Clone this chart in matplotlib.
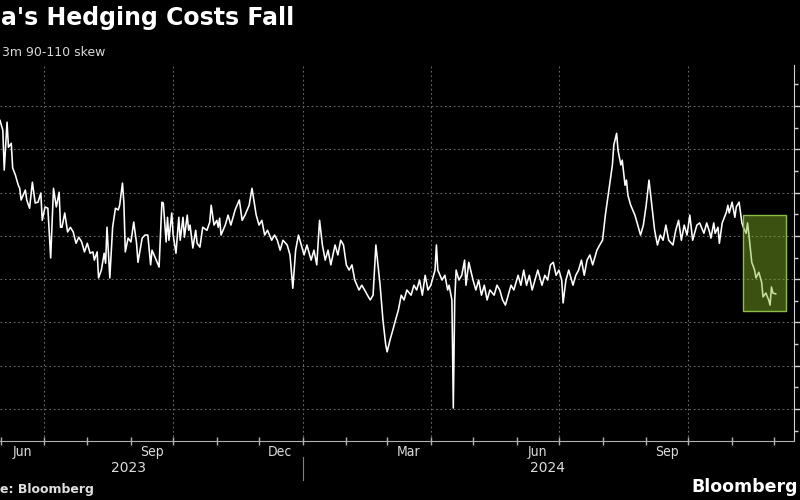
import matplotlib
matplotlib.use("Agg")
import matplotlib.pyplot as plt
import matplotlib.dates as mdates
import matplotlib.transforms as mtransforms
import matplotlib.patches as mpatches
import pandas as pd

# ---------------- data ----------------
base_date = pd.Timestamp("2023-07-01")

day_offsets = [
    -31, -29, -28, -26, -25, -23, -22, -20, -18, -17, -16, -13, -12, -10, -8, -6, -4, -2, -1, 1,
    3, 5, 7, 9, 11, 12, 13, 15, 17, 19, 21, 23, 25, 27, 29, 31, 33, 35, 36, 38,
    39, 41, 43, 44, 45, 47,
    49, 51, 53, 54, 56, 57, 58, 60, 62, 64, 66, 67, 70, 72, 74, 76, 77, 80, 82, 84,
    85, 87, 88, 89, 91, 92, 94, 96, 97, 99, 100, 102, 103, 104, 106, 108, 109, 111, 113, 116,
    118, 119, 121, 123, 124, 125, 126, 129,
    131, 133, 136, 139, 141, 143, 146, 148, 151, 153, 155, 157, 159, 162, 164, 166, 168, 170, 173, 175,
    177, 179, 181,
    183, 185, 187, 190, 192, 194, 196, 198, 200, 202, 204, 207, 209, 211, 213, 215, 217, 219, 221, 224,
    226, 228, 230, 232, 234, 236, 239, 241, 243, 244, 246, 248, 250, 252, 254, 256, 258, 261, 263, 265,
    267, 269, 271, 273, 275, 278, 279, 280, 283, 285, 287, 288, 290, 291, 292, 293,
    295, 297, 299, 300, 302, 305, 307, 309, 311, 313, 315, 317, 320, 322, 324, 326, 328, 330, 332, 334,
    337, 339, 341, 343, 345, 347, 349, 351, 354, 356, 358, 360, 362, 364, 366, 368, 369, 371, 373, 376,
    378, 380, 382, 384, 386, 388, 390, 393, 395, 397,
    399, 401, 403, 404, 405, 407, 408, 410, 411, 413, 414, 415, 417, 420, 422, 424, 426, 428, 430, 432,
    434, 436, 438, 440, 442, 444, 447, 449, 451, 453, 455, 457, 459, 461, 464, 466,
    469, 471, 473, 474, 476, 477, 479, 480, 482, 485, 486, 487, 489, 490, 491, 492, 494, 496, 497, 499,
    500, 501, 503, 505, 506, 508, 510, 511, 513, 515, 516, 517, 518, 520,
]

skew = [
    8.67, 8.44, 7.52, 8.63, 8.05, 8.14, 7.57, 7.40, 7.17, 7.10, 6.83, 7.06, 6.83, 6.64, 7.24, 6.76, 6.78, 6.99, 6.36, 6.67,
    6.64, 5.49, 7.10, 6.67, 7.01, 6.20, 6.20, 6.53, 6.09, 6.20, 6.09, 5.83, 5.97, 5.86, 5.63, 5.83, 5.60, 5.63, 5.44, 5.63,
    5.03, 5.21, 5.60, 5.37, 6.20, 5.03,
    6.20, 6.64, 6.60, 6.71, 7.22, 6.76, 5.63, 5.95, 5.86, 6.32, 5.83, 5.39, 5.95, 6.02, 6.02, 5.33, 5.67, 5.44, 5.28, 6.78,
    6.76, 5.86, 6.43, 5.90, 6.53, 6.02, 5.60, 6.43, 5.90, 6.43, 5.97, 6.48, 6.13, 6.25, 5.72, 6.13, 5.83, 5.74, 6.20, 6.13,
    6.32, 6.71, 6.25, 6.36, 6.20, 6.41, 6.02, 6.25,
    6.48, 6.25, 6.60, 6.83, 6.36, 6.48, 6.71, 7.10, 6.48, 6.25, 6.36, 6.02, 6.13, 5.90, 6.02, 5.90, 5.67, 5.90, 5.79, 5.56,
    4.79, 5.67, 6.02,
    5.79, 5.56, 5.79, 5.44, 5.67, 5.33, 6.36, 5.79, 5.44, 5.67, 5.33, 5.79, 5.56, 5.90, 5.79, 5.33, 5.21, 5.33, 4.98, 4.75,
    4.86, 4.75, 4.63, 4.52, 4.63, 5.79, 4.86, 4.06, 3.48, 3.32, 3.59, 3.82, 4.06, 4.29, 4.63, 4.52, 4.75, 4.63, 4.86, 4.75,
    4.98, 4.63, 5.09, 4.75, 4.86, 5.21, 5.79, 5.21, 4.98, 5.09, 4.75, 4.86, 4.52, 2.02, 4.52, 5.21,
    4.98, 5.09, 5.44, 4.86, 5.39, 4.98, 4.75, 4.98, 4.63, 4.86, 4.52, 4.75, 4.63, 4.86, 4.75, 4.52, 4.40, 4.63, 4.86, 4.75,
    5.09, 4.86, 5.21, 4.86, 5.09, 4.75, 4.98, 5.21, 4.86, 5.09, 4.98, 5.33, 5.39, 5.09, 5.21, 4.98, 4.45, 4.98, 5.21, 4.86,
    5.09, 5.21, 5.44, 5.09, 5.44, 5.56, 5.33, 5.67, 5.79, 5.90,
    6.48, 6.94, 7.40, 7.64, 8.10, 8.37, 7.98, 7.64, 7.75, 7.17, 7.29, 6.94, 6.71, 6.48, 6.25, 6.02, 6.25, 6.71, 7.29, 6.71,
    6.13, 5.79, 6.02, 5.90, 6.25, 5.90, 5.79, 6.13, 6.36, 5.90, 6.25, 6.02, 6.48, 5.90, 6.25, 6.30,
    6.06, 6.30, 6.09, 5.95, 6.30, 6.06, 6.20, 5.83, 6.30, 6.55, 6.71, 6.53, 6.78, 6.60, 6.43, 6.67, 6.78, 6.30, 6.20, 6.06,
    6.30, 6.02, 5.39, 5.21, 5.03, 5.16, 4.93, 4.59, 4.68, 4.52, 4.40, 4.82, 4.68, 4.66,
]

# highlighted recent window
highlight_start = pd.Timestamp("2024-11-09")
highlight_end = pd.Timestamp("2024-12-09")
highlight_low = 4.26
highlight_high = 6.48

title = "a's Hedging Costs Fall"
subtitle = "3m 90-110 skew"
source = "e: Bloomberg"
logo = "Bloomberg"
quarter_labels = ["Jun", "Sep", "Dec", "Mar", "Jun", "Sep"]

dates = base_date + pd.to_timedelta(day_offsets, unit="D")

# ---------------- figure ----------------
fig = plt.figure(figsize=(8, 5), dpi=100, facecolor="black")
ax = fig.add_axes([0.0, 0.118, 0.9925, 0.752])
ax.set_facecolor("black")

ax.plot(dates, skew, color="white", lw=1.15, zorder=3)

x0 = mdates.date2num(highlight_start)
w = mdates.date2num(highlight_end) - x0
ax.add_patch(mpatches.Rectangle((x0, highlight_low), w, highlight_high - highlight_low,
                                facecolor="#81b628", alpha=0.45, edgecolor="none", zorder=4))
ax.add_patch(mpatches.Rectangle((x0, highlight_low), w, highlight_high - highlight_low,
                                facecolor="none", edgecolor="#8cbd45", lw=1.0, zorder=5))

# limits
ax.set_xlim(pd.Timestamp("2023-05-31"), pd.Timestamp("2024-12-15"))
ax.set_ylim(1.26, 9.95)

# spines
for s in ["left", "top"]:
    ax.spines[s].set_visible(False)
ax.spines["right"].set_color("#d0d0d0")
ax.spines["bottom"].set_color("#b0b0b0")

# y axis on right, labels cut off in the reference
ax.yaxis.tick_right()
ax.set_yticks(range(2, 10))
ax.set_yticks([x + 0.5 for x in range(1, 10)], minor=True)
ax.set_yticklabels([])
ax.tick_params(axis="y", which="major", direction="out", length=5, color="#d0d0d0", width=1)
ax.tick_params(axis="y", which="minor", direction="out", length=3, color="#d0d0d0", width=1)
ax.yaxis.grid(True, which="major", color="#6a6a6a", linestyle=(0, (1.5, 2.5)), lw=0.8)

# x axis: monthly ticks, quarter gridlines
ax.xaxis.set_major_locator(mdates.MonthLocator())
ax.xaxis.set_major_formatter(plt.NullFormatter())
ax.tick_params(axis="x", which="major", direction="inout", length=6, color="#b0b0b0", width=1)
for q in pd.date_range("2023-07-01", "2024-10-01", freq="QS-JAN"):
    ax.axvline(q, color="#6a6a6a", linestyle=(0, (1.5, 2.5)), lw=0.8, zorder=1)

trans = mtransforms.blended_transform_factory(ax.transData, ax.transAxes)
label_dates = pd.date_range("2023-06-01", "2024-09-01", freq="QS-MAR") + pd.Timedelta(days=15)
for d, lab in zip(label_dates, quarter_labels):
    ax.text(d, -0.03, lab, transform=trans, ha="center", va="center",
            color="#dcdcdc", fontsize=10, fontstretch="condensed")

ax.text(pd.Timestamp("2023-08-30"), -0.072, "2023", transform=trans, ha="center", va="center",
        color="#dcdcdc", fontsize=10)
ax.text(pd.Timestamp("2024-06-23"), -0.072, "2024", transform=trans, ha="center", va="center",
        color="#dcdcdc", fontsize=10)
ax.plot([pd.Timestamp("2024-01-01")] * 2, [-0.043, -0.105], transform=trans,
        color="#808080", lw=0.8, clip_on=False)

# titles
fig.text(0.001, 0.963, title, color="white", fontsize=17, fontweight="bold",
         ha="left", va="center")
fig.text(0.002, 0.896, subtitle, color="#d8d8d8", fontsize=9, ha="left", va="center")
fig.text(0.0, 0.02, source, color="#e0e0e0", fontsize=9, fontweight="bold",
         ha="left", va="center")
fig.text(0.997, 0.025, logo, color="white", fontsize=12.5, fontweight="bold",
         ha="right", va="center")

fig.savefig("out.png", dpi=100, facecolor="black")
